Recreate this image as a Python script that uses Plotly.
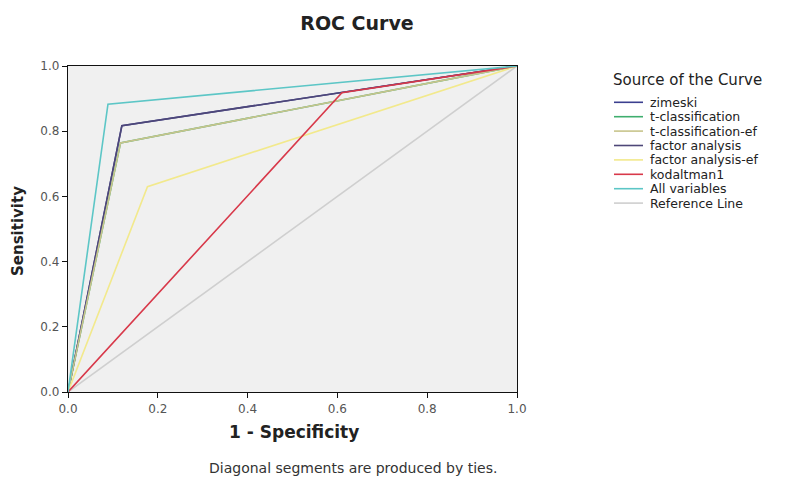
import plotly.graph_objects as go

# ---- data ----
series_names = ["zimeski", "t-classification", "t-classification-ef", "factor analysis",
                "factor analysis-ef", "kodaltman1", "All variables", "Reference Line"]
fpr = {
    "zimeski": [0.0, 0.120, 1.0],
    "t-classification": [0.0, 0.117, 1.0],
    "t-classification-ef": [0.0, 0.117, 1.0],
    "factor analysis": [0.0, 0.120, 1.0],
    "factor analysis-ef": [0.0, 0.177, 1.0],
    "kodaltman1": [0.0, 0.610, 1.0],
    "All variables": [0.0, 0.089, 1.0],
    "Reference Line": [0.0, 1.0],
}
tpr = {
    "zimeski": [0.0, 0.817, 1.0],
    "t-classification": [0.0, 0.764, 1.0],
    "t-classification-ef": [0.0, 0.764, 1.0],
    "factor analysis": [0.0, 0.817, 1.0],
    "factor analysis-ef": [0.0, 0.630, 1.0],
    "kodaltman1": [0.0, 0.918, 1.0],
    "All variables": [0.0, 0.883, 1.0],
    "Reference Line": [0.0, 1.0],
}
tick_vals = [0.0, 0.2, 0.4, 0.6, 0.8, 1.0]
tick_text = ["0.0", "0.2", "0.4", "0.6", "0.8", "1.0"]

colors = {
    "zimeski": "#3B3F8F",
    "t-classification": "#3FAE6E",
    "t-classification-ef": "#C8C48C",
    "factor analysis": "#4E4778",
    "factor analysis-ef": "#F2E98C",
    "kodaltman1": "#D8394A",
    "All variables": "#5CC6C6",
    "Reference Line": "#CFCFCF",
}

# drawing order (later on top)
draw_order = ["Reference Line", "zimeski", "t-classification", "factor analysis",
              "t-classification-ef", "factor analysis-ef", "kodaltman1", "All variables"]

fig = go.Figure()
for name in draw_order:
    fig.add_trace(go.Scatter(
        x=fpr[name], y=tpr[name], mode="lines", name=name,
        line=dict(color=colors[name], width=1.6), showlegend=False,
        hoverinfo="x+y+name"))

# ---- geometry (reference pixel coords; page body has an 8px margin) ----
OFF = 8
W, H = 787 - OFF, 481 - OFF
L, R, T, B = 68, 517, 66, 392          # plot area in reference pixels
pw, ph = R - L, B - T


def px(x):
    return (x - L) / pw


def py(y):
    return (B - y) / ph


FONT = "DejaVu Sans"
annotations = []
shapes = []

# manual legend (compact spacing like the reference)
annotations.append(dict(text="Source of the Curve", x=px(611), y=py(80), xref="paper", yref="paper",
                        xanchor="left", yanchor="middle", showarrow=False,
                        font=dict(family=FONT, size=15, color="#222")))
y0 = 102.3
dy = 14.4
for i, name in enumerate(series_names):
    yy = y0 + i * dy
    shapes.append(dict(type="line", xref="paper", yref="paper", x0=px(614), x1=px(643),
                       y0=py(yy), y1=py(yy), line=dict(color=colors[name], width=1.6)))
    annotations.append(dict(text=name, x=px(648), y=py(yy), xref="paper", yref="paper",
                            xanchor="left", yanchor="middle", showarrow=False,
                            font=dict(family=FONT, size=12.5, color="#222")))

# axis titles
annotations.append(dict(text="<b>1 - Specificity</b>", x=px(294), y=py(432), xref="paper", yref="paper",
                        xanchor="center", yanchor="middle", showarrow=False,
                        font=dict(family=FONT, size=17, color="#222")))
annotations.append(dict(text="<b>Sensitivity</b>", x=px(18), y=py(231), xref="paper", yref="paper",
                        xanchor="center", yanchor="middle", showarrow=False, textangle=-90,
                        font=dict(family=FONT, size=15, color="#222")))

# footnote
annotations.append(dict(text="Diagonal segments are produced by ties.", x=px(353), y=py(468),
                        xref="paper", yref="paper", xanchor="center", yanchor="middle",
                        showarrow=False,
                        font=dict(family=FONT, size=14, color="#333")))

axis_common = dict(range=[0, 1], tickvals=tick_vals, ticktext=tick_text, showgrid=False, zeroline=False,
                   showline=True, linecolor="#111", linewidth=1.3, mirror=True,
                   ticks="outside", ticklen=5, tickcolor="#111", tickwidth=1.3,
                   tickfont=dict(family=FONT, size=12, color="#555"), automargin=False)

fig.update_layout(
    width=W, height=H,
    margin=dict(l=L - OFF, r=787 - R, t=T - OFF, b=481 - B, pad=0, autoexpand=False),
    paper_bgcolor="white", plot_bgcolor="#F0F0F0",
    title=dict(text="<b>ROC Curve</b>", x=(357 - OFF) / W, y=1 - (23 - OFF) / H,
               xanchor="center", yanchor="middle",
               font=dict(family=FONT, size=19, color="#222")),
    xaxis=axis_common,
    yaxis=axis_common,
    annotations=annotations,
    shapes=shapes,
    showlegend=False,
)

fig.write_html("out.html")
